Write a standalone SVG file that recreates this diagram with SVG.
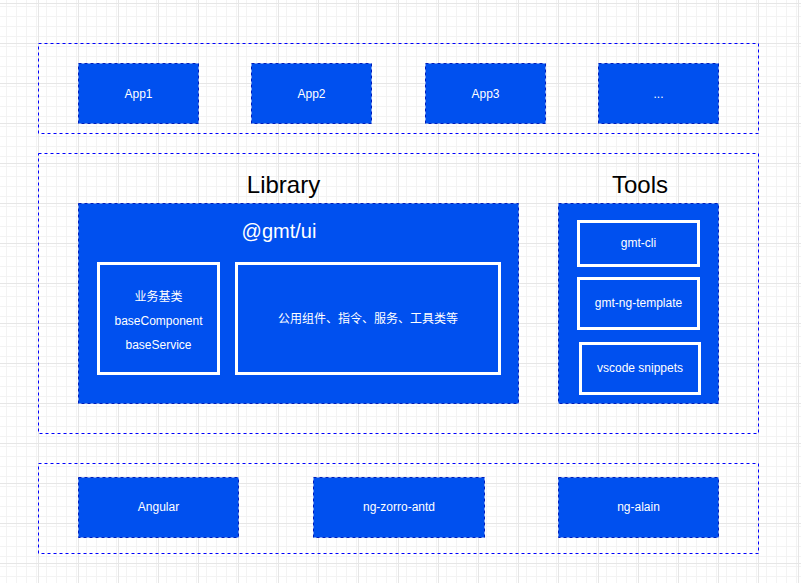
<svg xmlns="http://www.w3.org/2000/svg" width="801" height="583" viewBox="0 0 801 583">
<defs>
<pattern id="minor" width="10" height="10" patternUnits="userSpaceOnUse" x="-2" y="3">
<path d="M0.5 0V10M0 0.5H10" fill="none" stroke="#f3f3f3" stroke-width="1"/>
</pattern>
<pattern id="major" width="40" height="40" patternUnits="userSpaceOnUse" x="-2" y="3">
<rect width="40" height="40" fill="url(#minor)"/>
<path d="M0.5 0V40M0 0.5H40" fill="none" stroke="#e6e6e6" stroke-width="1"/>
</pattern>
<style>
.cont{fill:none;stroke:#0000ff;stroke-width:1;stroke-dasharray:3 3}
.blue{fill:#0050ef;stroke:#001dbc;stroke-width:1;stroke-dasharray:3 3}
.inner{fill:#0050ef;stroke:#ffffff;stroke-width:3}
.t{font-family:"Liberation Sans","Noto Sans CJK SC",Arial,sans-serif;font-size:12px;fill:#ffffff;text-anchor:middle;dominant-baseline:central}
.h{font-family:"Liberation Sans",Arial,sans-serif;font-size:24px;fill:#000000;text-anchor:middle;dominant-baseline:central}
</style>
</defs>
<rect width="801" height="583" fill="#ffffff"/>
<rect width="801" height="583" fill="url(#major)"/>
<g id="connectors"></g>
<g id="apps-container"><rect class="cont" x="38.5" y="43.5" width="720" height="90"/></g>
<g id="app1"><rect class="blue" x="78.5" y="63.5" width="120" height="60"/><text class="t" x="138.5" y="94">App1</text></g>
<g id="app2"><rect class="blue" x="251.5" y="63.5" width="120" height="60"/><text class="t" x="311.5" y="94">App2</text></g>
<g id="app3"><rect class="blue" x="425.5" y="63.5" width="120" height="60"/><text class="t" x="485.5" y="94">App3</text></g>
<g id="app-more"><rect class="blue" x="598.5" y="63.5" width="120" height="60"/><text class="t" x="658.5" y="94">...</text></g>

<g id="middle-container"><rect class="cont" x="38.5" y="153.5" width="720" height="280"/></g>
<g id="library-label"><text class="h" x="283.5" y="184">Library</text></g>
<g id="tools-label"><text class="h" x="640" y="184">Tools</text></g>

<g id="gmt-ui"><rect class="blue" x="78.5" y="203.5" width="440" height="200"/><text class="t" x="279" y="231" style="font-size:20px">@gmt/ui</text></g>
<g id="base"><rect class="inner" x="98.5" y="263.5" width="120" height="110"/>
<text class="t" x="158.5" y="297">业务基类</text>
<text class="t" x="158.5" y="321">baseComponent</text>
<text class="t" x="158.5" y="345">baseService</text></g>
<g id="common"><rect class="inner" x="236.5" y="263.5" width="263" height="110"/><text class="t" x="368" y="319">公用组件、指令、服务、工具类等</text></g>

<g id="tools"><rect class="blue" x="558.5" y="203.5" width="160" height="200"/></g>
<g id="gmt-cli"><rect class="inner" x="578.5" y="221.5" width="120" height="44"/><text class="t" x="638.5" y="243">gmt-cli</text></g>
<g id="gmt-ng-template"><rect class="inner" x="578.5" y="278.5" width="120" height="50"/><text class="t" x="638.5" y="303">gmt-ng-template</text></g>
<g id="vscode-snippets"><rect class="inner" x="580.5" y="343.5" width="119" height="50"/><text class="t" x="640" y="368">vscode snippets</text></g>

<g id="base-container"><rect class="cont" x="38.5" y="463.5" width="720" height="90"/></g>
<g id="angular"><rect class="blue" x="78.5" y="477.5" width="160" height="60"/><text class="t" x="158.5" y="507">Angular</text></g>
<g id="ng-zorro-antd"><rect class="blue" x="313.5" y="477.5" width="171" height="60"/><text class="t" x="399" y="507">ng-zorro-antd</text></g>
<g id="ng-alain"><rect class="blue" x="558.5" y="477.5" width="160" height="60"/><text class="t" x="638.5" y="507">ng-alain</text></g>
</svg>
